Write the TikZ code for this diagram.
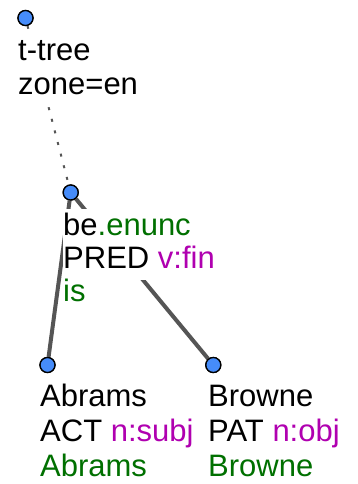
\documentclass[tikz,border=0pt]{standalone}
\usepackage{fontspec}
\setmainfont{Liberation Sans}
\definecolor{tgreen}{RGB}{0,112,0}
\definecolor{tmag}{RGB}{176,0,176}
\definecolor{tblue}{RGB}{70,140,250}
\definecolor{tedge}{RGB}{85,85,85}
\begin{document}
\begin{tikzpicture}[x=1pt,y=-1pt,
  tnode/.style={circle,draw=black,fill=tblue,line width=1.3pt,minimum size=15pt,inner sep=0pt},
  tline/.style={anchor=base west,fill=white,inner xsep=0.5pt,inner ysep=2pt,
     text height=24pt,text depth=10pt,font=\fontsize{31}{35}\selectfont},
  tedgesolid/.style={draw=tedge,line width=4pt},
  tedgedot/.style={draw=tedge,line width=2pt,dash pattern=on 3pt off 9pt}]
\useasboundingbox (0,0) rectangle (357,484);
% tree nodes
\node[tnode] (root) at (25.5,18) {};
\node[tnode] (be) at (70.7,192.5) {};
\node[tnode] (abr) at (47.5,365) {};
\node[tnode] (bro) at (213.3,365) {};
% edges
\draw[tedgedot] (root) -- (be);
\draw[tedgesolid] (be) -- (abr);
\draw[tedgesolid] (be) -- (bro);
% redraw circles on top
\node[tnode] at (root) {};
\node[tnode] at (be) {};
\node[tnode] at (abr) {};
\node[tnode] at (bro) {};
% labels
\node[tline] (root1) at (17.5,61) {t-tree};
\node[tline] (root2) at (17.5,95) {zone=en};
\node[tline] (be1) at (62.5,235) {be\textcolor{tgreen}{.enunc}};
\node[tline] (be2) at (62.5,268) {PRED \textcolor{tmag}{v:fin}};
\node[tline] (be3) at (62.5,301.5) {\textcolor{tgreen}{is}};
\node[tline] (abr1) at (39.5,406.7) {Abrams};
\node[tline] (abr2) at (39.5,441.7) {ACT \textcolor{tmag}{n:subj}};
\node[tline] (abr3) at (39.5,476.7) {\textcolor{tgreen}{Abrams}};
\node[tline] (bro1) at (207.5,406.7) {Browne};
\node[tline] (bro2) at (207.5,441.7) {PAT \textcolor{tmag}{n:obj}};
\node[tline] (bro3) at (207.5,476.7) {\textcolor{tgreen}{Browne}};
\end{tikzpicture}
\end{document}
